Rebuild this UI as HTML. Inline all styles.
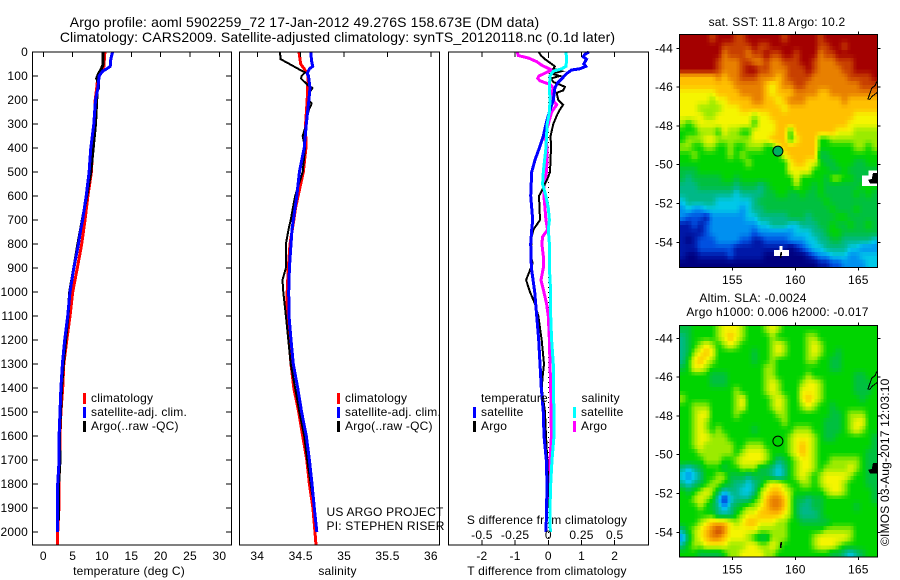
<!DOCTYPE html>
<html lang="en">
<head>
<meta charset="utf-8">
<title>Argo profile 5902259_72</title>
<style>
html,body{margin:0;padding:0;background:#fff;width:900px;height:580px;overflow:hidden}
svg{display:block;position:absolute;left:0;top:0}
text{font-family:"Liberation Sans",sans-serif;font-size:12px;fill:#000;letter-spacing:.2px}
.title{font-size:14px;letter-spacing:.14px}
.title2{font-size:14px;letter-spacing:.1px}
</style>
</head>
<body>
<svg id="fig" xmlns="http://www.w3.org/2000/svg" width="900" height="580" viewBox="0 0 900 580">
<text class="title" x="304.5" y="27" text-anchor="middle">Argo profile: aoml 5902259_72 17-Jan-2012 49.276S 158.673E (DM data)</text>
<text class="title2" x="337.5" y="42" text-anchor="middle">Climatology: CARS2009. Satellite-adjusted climatology: synTS_20120118.nc (0.1d later)</text>
<text x="129" y="575" text-anchor="middle">temperature (deg C)</text>
<text x="337.5" y="575" text-anchor="middle">salinity</text>
<text x="547" y="575" text-anchor="middle">T difference from climatology</text>
<text x="547" y="524" text-anchor="middle">S difference from climatology</text>
<text x="326.5" y="516">US ARGO PROJECT</text>
<text x="326.5" y="530">PI: STEPHEN RISER</text>
<text x="777" y="26" text-anchor="middle">sat. SST: 11.8 Argo: 10.2</text>
<text x="753" y="302" text-anchor="middle">Altim. SLA: -0.0024</text>
<text x="777.5" y="316" text-anchor="middle">Argo h1000: 0.006 h2000: -0.017</text>
<text transform="translate(889,546) rotate(-90)">©IMOS 03-Aug-2017 12:03:10</text>
</svg>
<script>
/* ---------- depth levels and tick labels ---------- */
const depthTicks = [0,100,200,300,400,500,600,700,800,900,1000,1100,1200,1300,1400,1500,1600,1700,1800,1900,2000];
const tempTicks = [0,5,10,15,20,25,30];
const salTicks = [34,34.5,35,35.5,36];
const salTickLabels = ['34','34.5','35','35.5','36'];
const tDiffTicks = [-2,-1,0,1,2];
const sDiffTicks = [-0.5,-0.25,0,0.25,0.5];
const sDiffTickLabels = ['-0.5','-0.25','0','0.25','0.5'];
const lonTicks = [155,160,165];
const latTicks = [-44,-46,-48,-50,-52,-54];

/* ---------- temperature profiles ---------- */
const tempClimDepth = [0,60,90,100,150,200,300,400,500,600,700,800,900,1000,1100,1200,1300,1400,1500,1600,1700,1800,1900,2000,2054];
const tempClim = [10.5,10.3,9.6,9.3,9.1,8.85,8.7,8.4,8.2,7.6,7.1,6.55,5.8,5.0,4.55,4.0,3.5,3.3,3.0,2.85,2.8,2.65,2.65,2.45,2.45];
const tempSatDepth = [0,30,60,70,80,100,150,200,300,400,500,600,700,750,800,900,1000,1100,1200,1300,1400,1500,1600,1700,1800,1900,2000];
const tempSat = [11.8,11.5,11.4,10.8,10.1,9.5,9.3,8.9,8.6,8.1,7.8,7.3,6.7,6.3,6.0,5.2,4.55,4.15,3.65,3.25,3.0,2.85,2.7,2.7,2.45,2.45,2.45];
const tempArgoDepth = [0,50,70,90,110,130,150,160,200,300,400,500,600,800,900,1000,1100,1200,1300,1400,1500,1600,1700,1800,1900,1950];
const tempArgo = [10.2,10.2,9.9,9.4,9.1,9.4,9.4,9.2,9.1,8.9,8.5,8.1,7.4,5.9,5.2,4.5,4.2,3.8,3.4,3.1,2.95,2.75,2.85,2.6,2.6,2.55];

/* ---------- salinity profiles ---------- */
const salClimDepth = [0,50,70,90,100,200,300,400,500,600,650,700,800,900,1000,1100,1200,1300,1400,1500,1600,1700,1800,1900,2000,2054];
const salClim = [34.48,34.5,34.54,34.575,34.584,34.575,34.557,34.56,34.53,34.47,34.44,34.42,34.377,34.357,34.345,34.345,34.365,34.388,34.42,34.477,34.523,34.57,34.6,34.64,34.665,34.676];
const salSatDepth = [0,40,60,70,90,100,150,200,250,300,400,500,600,700,740,800,900,1000,1100,1200,1300,1400,1500,1600,1700,1800,1900,2000];
const salSat = [34.615,34.627,34.638,34.6,34.575,34.59,34.607,34.595,34.58,34.565,34.54,34.485,34.455,34.415,34.4,34.388,34.37,34.362,34.365,34.388,34.415,34.465,34.51,34.565,34.6,34.63,34.657,34.685];
const salArgoDepth = [0,30,40,55,70,85,100,110,120,140,150,170,200,215,235,260,300,350,400,500,600,700,740,800,900,950,1000,1100,1200,1300,1400,1500,1600,1700,1800,1850];
const salArgo = [34.26,34.27,34.32,34.396,34.47,34.55,34.51,34.503,34.53,34.59,34.635,34.6,34.59,34.627,34.6,34.58,34.565,34.523,34.55,34.523,34.435,34.385,34.36,34.33,34.33,34.29,34.3,34.33,34.357,34.385,34.435,34.485,34.54,34.575,34.615,34.635];

/* ---------- differences from climatology ---------- */
const tDiffSatDepth = [0,10,20,30,50,60,70,75,90,105,130,150,200,250,300,350,400,450,500,600,700,740,800,900,1000,1100,1200,1300,1400,1500,1600,1700,1800,1900,2000];
const tDiffSat = [1.22,1.1,1.05,1.15,1.07,1.13,0.95,0.7,0.55,0.45,0.27,0.2,0.15,0.03,-0.07,-0.15,-0.27,-0.4,-0.5,-0.53,-0.47,-0.5,-0.53,-0.51,-0.41,-0.35,-0.29,-0.25,-0.21,-0.15,-0.13,-0.06,-0.04,-0.05,-0.07];
const tDiffArgoDepth = [0,15,30,45,60,70,80,90,100,110,125,135,145,160,170,200,220,235,260,300,350,400,500,530,570,600,700,740,770,850,880,950,1000,1050,1100,1200,1300,1350,1400,1500,1600,1700,1800,1900];
const tDiffArgo = [-0.29,-0.22,-0.1,0.05,0.2,0.15,0.4,0.1,0.35,0.08,0.15,0.33,0.5,0.45,0.25,0.3,0.45,0.37,0.27,0.15,0.07,0.08,0.05,-0.03,-0.17,-0.28,-0.25,-0.45,-0.5,-0.53,-0.47,-0.67,-0.55,-0.4,-0.3,-0.2,-0.13,-0.17,-0.2,-0.1,-0.07,-0.03,0,-0.03];
const sDiffArgoDepth = [0,15,25,40,55,75,85,100,110,120,135,150,170,200,220,250,300,350,400,500,550,600,650,700,740,770,800,850,900,950,1000,1050,1100,1200,1300,1400,1500,1600,1700,1800,1900];
const sDiffArgo = [-0.234,-0.226,-0.15,-0.088,-0.05,0.025,-0.013,-0.07,-0.08,-0.063,0.013,0.038,0.025,0.033,0.063,0.025,0,-0.025,-0.008,-0.013,-0.033,-0.033,-0.025,-0.018,-0.005,-0.043,-0.048,-0.038,-0.038,-0.055,-0.033,-0.013,0,0.008,0.013,0.018,0.02,0.023,0.013,0.005,0.005];
const sDiffSatDepth = [0,30,60,70,80,100,150,200,250,300,400,500,550,600,650,700,740,800,900,1000,1100,1200,1300,1400,1500,1600,1700,1800,1900,2000];
const sDiffSat = [0.133,0.138,0.133,0.1,0.038,0.013,0.008,0.013,0.008,-0.008,-0.018,-0.038,-0.043,-0.018,0,0.008,0,0.008,0.008,0.018,0.018,0.025,0.038,0.038,0.043,0.043,0.028,0.018,0.013,0.015];

/* ---------- map data: colour level per cell, north to south ---------- */
const sstGrid = [
[13,13,13,13,13,12,13,13,13,12,12,13,13,13,13,13,13,12,13,13,13,13,13,12,13,13,13,13,13,13,13,13,13],
[13,13,13,13,13,13,13,12,12,12,12,12,13,12,12,13,13,13,13,13,13,13,13,12,12,13,13,12,13,13,13,13,13],
[13,13,13,13,13,13,13,11,12,12,12,11,12,12,13,12,12,13,13,12,13,13,13,11,12,12,13,13,13,13,13,13,13],
[13,13,13,13,13,13,12,11,11,11,12,12,11,11,12,11,11,12,12,12,13,13,12,11,11,11,12,12,12,13,13,13,13],
[13,13,13,13,13,13,12,11,11,11,12,13,13,12,12,11,11,11,12,12,12,13,12,11,11,11,11,12,12,13,13,13,13],
[10,10,10,10,10,10,11,10,11,11,12,12,12,11,11,11,10,11,12,12,12,12,11,11,11,11,11,11,12,12,12,12,13],
[10,10,10,10,10,10,10,10,10,11,11,11,11,11,10,9,10,11,11,12,12,11,11,11,11,11,11,11,11,11,12,12,12],
[9,9,9,9,9,9,10,10,10,10,11,11,11,11,10,9,10,10,10,11,11,11,11,10,10,11,11,11,11,11,11,11,11],
[9,9,9,9,9,8,9,9,10,10,10,10,11,11,10,10,9,10,11,11,11,10,10,10,10,10,10,11,10,10,10,10,10],
[9,9,9,8,8,8,8,9,9,9,10,10,10,10,10,10,10,9,10,10,10,10,10,10,10,10,10,10,10,10,10,10,10],
[9,9,9,9,8,8,9,9,9,9,9,9,8,9,9,10,10,10,10,10,10,10,10,10,10,10,10,10,10,9,9,9,9],
[8,7,8,9,9,9,9,9,9,9,9,9,7,9,9,9,10,10,10,10,10,10,10,10,10,10,10,10,9,9,9,9,9],
[7,7,7,8,8,8,7,9,8,8,7,7,9,9,9,9,10,10,7,10,10,10,10,10,10,10,9,9,9,8,8,8,8],
[7,8,8,8,9,9,8,8,8,8,8,8,9,9,9,10,10,10,7,9,10,10,10,7,7,8,8,8,8,8,8,8,8],
[8,8,7,7,8,8,7,7,8,7,7,8,8,8,7,7,9,10,10,10,10,10,10,7,7,7,7,7,7,8,8,7,8],
[7,7,8,7,7,7,7,7,8,7,8,7,7,7,7,7,7,9,10,10,10,10,10,6,6,7,7,7,7,7,7,7,7],
[7,7,7,7,7,7,7,7,7,7,7,8,7,7,7,7,7,7,9,10,10,9,9,7,6,6,7,7,7,6,6,7,7],
[6,6,6,7,7,7,7,7,7,7,7,7,7,7,7,7,7,7,9,9,9,9,7,7,7,6,6,7,6,6,6,6,6],
[6,5,6,6,6,6,6,7,7,6,7,7,7,7,7,7,7,7,7,9,7,7,7,7,6,8,8,7,7,6,6,6,6],
[5,5,5,6,6,6,6,6,6,5,6,6,6,5,6,7,7,7,7,8,7,7,6,7,6,6,6,6,6,6,7,7,7],
[5,5,5,5,5,5,5,5,5,4,5,5,5,5,6,6,7,7,6,6,7,6,6,7,6,6,6,6,6,7,6,7,6],
[4,5,5,5,5,5,4,4,4,4,4,4,5,6,6,6,6,6,6,6,6,6,6,6,7,6,6,6,6,6,6,6,6],
[3,4,3,3,4,4,4,4,4,4,3,4,5,5,6,6,6,6,6,6,6,6,6,6,6,7,6,6,6,7,6,6,6],
[3,2,2,2,1,3,3,3,3,3,3,4,4,5,5,5,5,5,6,6,6,5,6,6,6,6,7,7,6,6,6,6,6],
[1,1,2,1,2,3,3,3,3,3,3,3,3,4,4,5,5,5,4,4,5,5,5,6,6,7,6,6,7,6,6,7,6],
[1,1,1,1,2,3,3,3,3,3,3,3,2,3,3,3,3,3,3,4,4,4,5,5,6,7,7,6,6,6,6,6,6],
[1,0,1,2,2,2,3,3,3,3,2,2,1,1,2,2,2,2,3,3,3,4,4,5,5,6,6,5,5,5,5,5,4],
[1,1,1,2,2,2,2,2,2,1,1,1,1,1,1,1,1,1,0,1,2,3,4,4,5,5,5,5,4,4,3,3,3],
[1,0,0,1,1,1,1,1,2,1,1,1,1,1,0,0,0,0,0,0,0,1,2,3,3,4,4,4,3,3,4,4,4],
[0,0,0,0,0,0,0,0,0,0,0,0,0,0,0,0,0,0,0,0,0,0,0,1,1,2,2,3,3,3,3,4,4]
];
const slaGrid = [
[6,6,7,7,7,7,8,9,9,9,8,7,7,7,8,9,8,7,7,7,7,7,7,7,7,7,7,7,7,7,7,7,7],
[5,6,7,7,7,7,8,9,10,9,8,7,7,7,7,8,7,7,7,7,7,8,8,7,7,7,7,7,7,7,7,7,7],
[5,6,7,8,9,8,7,8,9,8,7,7,7,7,7,8,9,8,7,7,7,8,9,8,7,7,7,7,7,7,7,7,7],
[5,6,8,9,10,9,7,7,7,7,7,7,6,7,7,8,9,8,7,7,7,8,9,8,7,7,6,7,7,7,7,7,7],
[5,7,9,10,9,8,7,7,7,7,7,7,6,7,7,8,7,7,7,7,7,8,8,7,7,6,6,7,7,7,7,7,7],
[6,7,9,9,8,7,7,7,7,7,7,7,7,7,8,8,7,7,7,7,7,7,7,7,7,6,6,7,7,7,7,7,7],
[7,7,7,7,7,6,6,6,7,7,7,7,7,7,8,8,7,7,7,7,7,8,7,7,7,7,7,7,7,6,6,7,7],
[7,7,7,7,7,6,6,6,7,7,7,7,7,7,8,9,8,7,7,7,8,9,9,8,7,7,7,7,7,6,6,6,7],
[7,7,7,7,7,7,7,7,7,8,7,7,7,7,8,9,8,7,7,7,9,9,9,8,7,7,7,7,7,6,6,6,7],
[8,7,7,7,7,7,7,7,7,8,9,7,7,7,7,8,9,8,7,7,9,10,9,8,7,7,7,7,7,7,6,7,7],
[7,7,8,8,8,7,7,7,7,8,9,7,7,7,7,8,9,8,7,7,8,9,8,7,7,6,7,7,7,7,7,7,7],
[7,7,8,9,9,7,7,7,7,8,7,7,7,7,7,7,8,8,7,7,7,7,7,7,7,6,6,7,8,8,8,7,7],
[7,7,8,9,8,7,7,7,7,7,7,7,7,7,7,7,7,8,7,7,7,7,7,7,6,6,6,7,8,9,9,7,7],
[7,7,8,9,8,7,8,7,7,7,7,7,6,7,7,7,7,7,7,8,8,8,7,7,6,6,6,7,8,9,8,7,7],
[7,7,8,9,9,8,8,8,7,7,7,7,7,7,7,7,7,7,8,9,9,9,8,7,6,6,7,7,7,7,7,7,6],
[7,7,8,9,8,8,8,8,8,7,7,8,8,8,7,7,7,7,8,9,10,9,8,7,7,7,7,7,7,7,7,7,6],
[7,7,7,8,8,8,8,8,8,7,8,9,9,9,8,7,7,7,8,9,10,9,8,7,7,7,7,7,7,7,7,6,6],
[7,7,7,7,8,8,8,7,7,8,9,9,9,9,8,7,5,6,7,8,9,9,8,7,7,8,8,8,8,8,7,6,6],
[5,4,5,6,7,7,7,6,7,7,8,8,8,6,6,5,4,5,7,8,9,9,8,7,8,8,8,8,9,8,7,6,6],
[4,3,4,5,7,7,8,8,6,6,6,5,6,6,6,5,4,5,7,8,9,8,7,8,9,9,9,9,8,7,7,6,6],
[5,4,5,6,7,8,8,7,6,5,5,4,5,6,8,9,9,8,7,7,8,8,7,8,9,9,9,8,7,7,7,6,6],
[7,6,7,8,9,8,6,4,5,5,4,4,5,8,9,10,10,9,8,7,7,7,7,7,8,9,9,8,7,7,7,7,6],
[7,7,8,9,8,7,4,1,4,5,5,5,7,8,10,11,11,10,8,6,6,5,6,6,7,7,7,7,7,7,7,7,6],
[7,7,7,8,7,6,5,3,5,6,7,8,8,9,10,11,11,10,8,6,5,5,6,6,7,7,7,7,7,6,7,7,7],
[7,7,7,7,7,7,5,5,5,7,8,9,9,10,10,10,10,9,8,6,5,5,5,6,7,7,7,7,7,7,7,7,7],
[7,7,7,8,9,10,10,10,9,8,9,10,10,9,9,9,8,8,7,7,6,6,6,6,6,7,7,7,7,7,7,7,7],
[5,7,8,9,10,11,12,11,9,9,9,9,9,8,8,8,8,8,7,7,7,7,7,7,8,8,8,8,8,7,7,7,7],
[3,6,8,9,10,11,11,10,9,9,9,8,7,6,6,8,8,8,7,7,7,7,8,9,9,9,9,9,8,7,7,7,7],
[5,7,8,8,9,9,9,9,8,8,8,9,9,8,8,9,8,7,7,7,7,7,8,9,9,9,8,7,7,7,7,7,7],
[7,7,7,6,6,6,6,7,8,8,9,9,9,9,8,8,7,7,7,7,7,7,7,7,7,6,6,5,4,5,6,7,7]
];
const colourLevels = [[0,0,127],[0,24,168],[0,80,224],[0,144,240],[0,200,232],[0,184,136],[0,192,64],[0,212,0],[155,235,0],[245,245,0],[255,192,0],[232,128,0],[200,64,0],[164,0,0]];
const floatLon = [158.62];
const floatLat = [-49.3];
const coastALon = [165.75,165.93,166.06,166.33,166.46];
const coastALat = [-46.65,-46.31,-46.05,-45.93,-45.71];
const coastBLon = [165.87,166.14,166.5];
const coastBLat = [-46.65,-46.45,-46.28];
const islandLon = [165.85,166.1,166.2,166.5,166.5,165.95];
const islandLat = [-50.8,-50.75,-50.45,-50.45,-50.95,-50.95];
const islandSLon = [158.82,158.95,158.9,158.78];
const islandSLat = [-54.5,-54.5,-54.8,-54.8];
const gapALon = [165.3,165.8,165.8,166.5,166.5,165.3];
const gapALat = [-50.55,-50.55,-50.3,-50.3,-51.1,-51.1];
const gapBLon = [158.3,158.75,158.75,159.0,159.0,159.5,159.5,158.3];
const gapBLat = [-54.4,-54.4,-54.2,-54.2,-54.4,-54.4,-54.7,-54.7];

/* ---------- layout and axis functions ---------- */
const svg = document.getElementById('fig');
const NS = 'http://www.w3.org/2000/svg';
const yDepth = d => 52 + d * 0.24;
const xTemp = t => 43.3 + t * 5.87;
const xSal = s => 257.3 + (s - 34) * 86.8;
const xTDiff = t => 548.3 + t * 33.2;
const xSDiff = s => 548.3 + s * 132.8;
const xLon = lon => 732.3 + (lon - 155) * 12.6;
const ySst = lat => 48.3 + (-44 - lat) * 19.4;
const ySla = lat => 338.3 + (-44 - lat) * 19.4;

function make(tag, geometry, parent) {
  const el = document.createElementNS(NS, tag);
  for (const k in geometry) el.setAttribute(k, geometry[k]);
  (parent || svg).appendChild(el);
  return el;
}
function group(name) {
  const g = make('g', {});
  
  
  return g;
}
function seg(parent, x1, y1, x2, y2) {
  const l = make('line', {x1, y1, x2, y2, stroke: '#000', 'stroke-width': 1, 'shape-rendering': 'crispEdges'}, parent);
  
  
}
function label(parent, x, y, str, anchor) {
  const t = make('text', {x, y, 'text-anchor': anchor}, parent);
  t.textContent = str;
  
  
}
function frame(parent, x, y, w, h) {
  const r = make('rect', {x, y, width: w, height: h, fill: 'none', stroke: '#000', 'stroke-width': 1, 'shape-rendering': 'crispEdges'}, parent);
  
  
}
function profile(parent, name, depth, vals, xf, colour, width) {
  const pts = depth.map((d, i) => xf(vals[i]).toFixed(1) + ',' + yDepth(d).toFixed(1)).join(' ');
  const p = make('polyline', {points: pts, fill: 'none', stroke: colour, 'stroke-width': width, 'shape-rendering': 'crispEdges', 'stroke-linejoin': 'miter'}, parent);
  
  
}
function legendEntry(parent, x, y, colour, str) {
  const r = make('rect', {x: x - 1, y: y - 5, width: 3, height: 11, fill: colour, 'shape-rendering': 'crispEdges'}, parent);
  
  
  const t = make('text', {x: x + 7, y: y + 4}, parent);
  t.textContent = str;
  
  
}

/* ---------- temperature panel ---------- */
const P = {top: 52, bottom: 545};
const g1 = group('temperature-panel');
profile(g1, 'temperature-climatology-line', tempClimDepth, tempClim, xTemp, '#ff0000', 3);
profile(g1, 'temperature-argo-line', tempArgoDepth, tempArgo, xTemp, '#000000', 3);
profile(g1, 'temperature-satellite-line', tempSatDepth, tempSat, xTemp, '#0000ff', 3);
frame(g1, 32.5, P.top, 199, P.bottom - P.top);
depthTicks.forEach(d => {
  seg(g1, 32.5, yDepth(d), 38, yDepth(d));
  seg(g1, 226, yDepth(d), 231.5, yDepth(d));
  label(g1, 28, yDepth(d) + 4, String(d), 'end');
});
tempTicks.forEach(t => {
  seg(g1, xTemp(t), P.top, xTemp(t), P.top + 5);
  label(g1, xTemp(t), 560, String(t), 'middle');
});
legendEntry(g1, 84, 398, '#ff0000', 'climatology');
legendEntry(g1, 84, 412, '#0000ff', 'satellite-adj. clim.');
legendEntry(g1, 84, 426, '#000000', 'Argo(..raw -QC)');

/* ---------- salinity panel ---------- */
const g2 = group('salinity-panel');
profile(g2, 'salinity-climatology-line', salClimDepth, salClim, xSal, '#ff0000', 3);
profile(g2, 'salinity-argo-line', salArgoDepth, salArgo, xSal, '#000000', 2);
profile(g2, 'salinity-satellite-line', salSatDepth, salSat, xSal, '#0000ff', 3);
frame(g2, 239.5, P.top, 200, P.bottom - P.top);
salTicks.forEach((s, i) => {
  seg(g2, xSal(s), P.top, xSal(s), P.top + 5);
  label(g2, xSal(s), 560, salTickLabels[i], 'middle');
});
legendEntry(g2, 338, 398, '#ff0000', 'climatology');
legendEntry(g2, 338, 412, '#0000ff', 'satellite-adj. clim.');
legendEntry(g2, 338, 426, '#000000', 'Argo(..raw -QC)');

/* ---------- difference panel ---------- */
const g3 = group('difference-panel');
const zero = make('line', {x1: xTDiff(0), y1: P.top, x2: xTDiff(0), y2: P.bottom, stroke: '#000', 'stroke-width': 1, 'stroke-dasharray': '1 4', 'shape-rendering': 'crispEdges'}, g3);


profile(g3, 's-diff-argo-line', sDiffArgoDepth, sDiffArgo, xSDiff, '#ff00ff', 3);
profile(g3, 't-diff-argo-line', tDiffArgoDepth, tDiffArgo, xTDiff, '#000000', 2);
profile(g3, 't-diff-satellite-line', tDiffSatDepth, tDiffSat, xTDiff, '#0000ff', 3);
profile(g3, 's-diff-satellite-line', sDiffSatDepth, sDiffSat, xSDiff, '#00ffff', 3);
frame(g3, 448.5, P.top, 200, P.bottom - P.top);
tDiffTicks.forEach(t => {
  seg(g3, xTDiff(t), P.top, xTDiff(t), P.top + 5);
  seg(g3, xTDiff(t), P.bottom - 5, xTDiff(t), P.bottom);
  label(g3, xTDiff(t), 560, String(t), 'middle');
});
sDiffTicks.forEach((s, i) => {
  label(g3, xSDiff(s), 539, sDiffTickLabels[i], 'middle');
});
const tHead = make('text', {x: 481, y: 402}, g3);
tHead.textContent = 'temperature';


const sHead = make('text', {x: 581.5, y: 402}, g3);
sHead.textContent = 'salinity';


legendEntry(g3, 474, 412, '#0000ff', 'satellite');
legendEntry(g3, 474, 426, '#000000', 'Argo');
legendEntry(g3, 574, 412, '#00ffff', 'satellite');
legendEntry(g3, 574, 426, '#ff00ff', 'Argo');

/* ---------- maps ---------- */
function outline(parent, name, lons, lats, yf, fill, stroke) {
  const pts = lons.map((lo, i) => xLon(lo).toFixed(1) + ',' + yf(lats[i]).toFixed(1)).join(' ');
  const p = make(fill === 'none' ? 'polyline' : 'polygon', {points: pts, fill, stroke, 'stroke-width': 1, 'shape-rendering': 'crispEdges'}, parent);
  
  
}
function levelColour(v) {
  const top = colourLevels.length - 1;
  const c = Math.max(0, Math.min(top, v));
  const i = Math.min(top - 1, Math.floor(c));
  const f = c - i;
  const rgb = colourLevels[i].map((a, k) => Math.round(a + (colourLevels[i + 1][k] - a) * f));
  return 'rgb(' + rgb.join(',') + ')';
}
function sampleGrid(grid, r, c) {
  const rows = grid.length, cols = grid[0].length;
  const rc = Math.max(0, Math.min(rows - 1, r)), cc = Math.max(0, Math.min(cols - 1, c));
  const r0 = Math.floor(rc), c0 = Math.floor(cc);
  const r1 = Math.min(rows - 1, r0 + 1), c1 = Math.min(cols - 1, c0 + 1);
  const fr = rc - r0, fc = cc - c0;
  return (grid[r0][c0] * (1 - fc) + grid[r0][c1] * fc) * (1 - fr) + (grid[r1][c0] * (1 - fc) + grid[r1][c1] * fc) * fr;
}
function drawMap(g, grid, yf, box, yLabelX) {
  const cols = grid[0].length * 2, rows = grid.length * 2;
  const cw = box.w / cols, ch = box.h / rows;
  for (let r = 0; r < rows; r++) {
    for (let c = 0; c < cols; c++) {
      const cell = make('rect', {
        x: (box.x + c * cw).toFixed(2), y: (box.y + r * ch).toFixed(2),
        width: (cw + 0.4).toFixed(2), height: (ch + 0.4).toFixed(2),
        fill: levelColour(sampleGrid(grid, (r - 0.5) / 2, (c - 0.5) / 2)),
        'shape-rendering': 'crispEdges'
      }, g);
      
      
    }
  }
  outline(g, 'coastline-north', coastALon, coastALat, yf, 'none', '#000');
  outline(g, 'coastline-north-inner', coastBLon, coastBLat, yf, 'none', '#000');
  frame(g, box.x, box.y, box.w, box.h);
  lonTicks.forEach(lo => {
    seg(g, xLon(lo), box.y - 3, xLon(lo), box.y);
    seg(g, xLon(lo), box.y + box.h, xLon(lo), box.y + box.h + 3);
    label(g, xLon(lo), box.y + box.h + 16.5, String(lo), 'middle');
  });
  latTicks.forEach(la => {
    seg(g, box.x - 3, yf(la), box.x, yf(la));
    seg(g, box.x + box.w, yf(la), box.x + box.w + 3, yf(la));
    label(g, yLabelX, yf(la) + 4, String(la), 'end');
  });
}
const g4 = group('sst-map');
drawMap(g4, sstGrid, ySst, {x: 679.5, y: 34.5, w: 198, h: 233}, 673);
outline(g4, 'missing-data-patch-east', gapALon, gapALat, ySst, '#fff', 'none');
outline(g4, 'missing-data-patch-south', gapBLon, gapBLat, ySst, '#fff', 'none');
outline(g4, 'island-east', islandLon, islandLat, ySst, '#000', '#000');
outline(g4, 'island-south', islandSLon, islandSLat, ySst, '#000', 'none');
floatLon.forEach((lo, i) => {
  const m = make('circle', {cx: xLon(lo), cy: ySst(floatLat[i]), r: 5, fill: '#00b060', stroke: '#000', 'stroke-width': 1}, g4);
  
  
});
const g5 = group('sla-map');
drawMap(g5, slaGrid, ySla, {x: 679.5, y: 325.5, w: 198, h: 231.5}, 673);
outline(g5, 'island-east', islandLon, islandLat, ySla, '#000', '#000');
outline(g5, 'island-south', islandSLon, islandSLat, ySla, '#000', 'none');
floatLon.forEach((lo, i) => {
  const m = make('circle', {cx: xLon(lo), cy: ySla(floatLat[i]), r: 5, fill: 'none', stroke: '#000', 'stroke-width': 1}, g5);
  
  
});
</script>
</body>
</html>
